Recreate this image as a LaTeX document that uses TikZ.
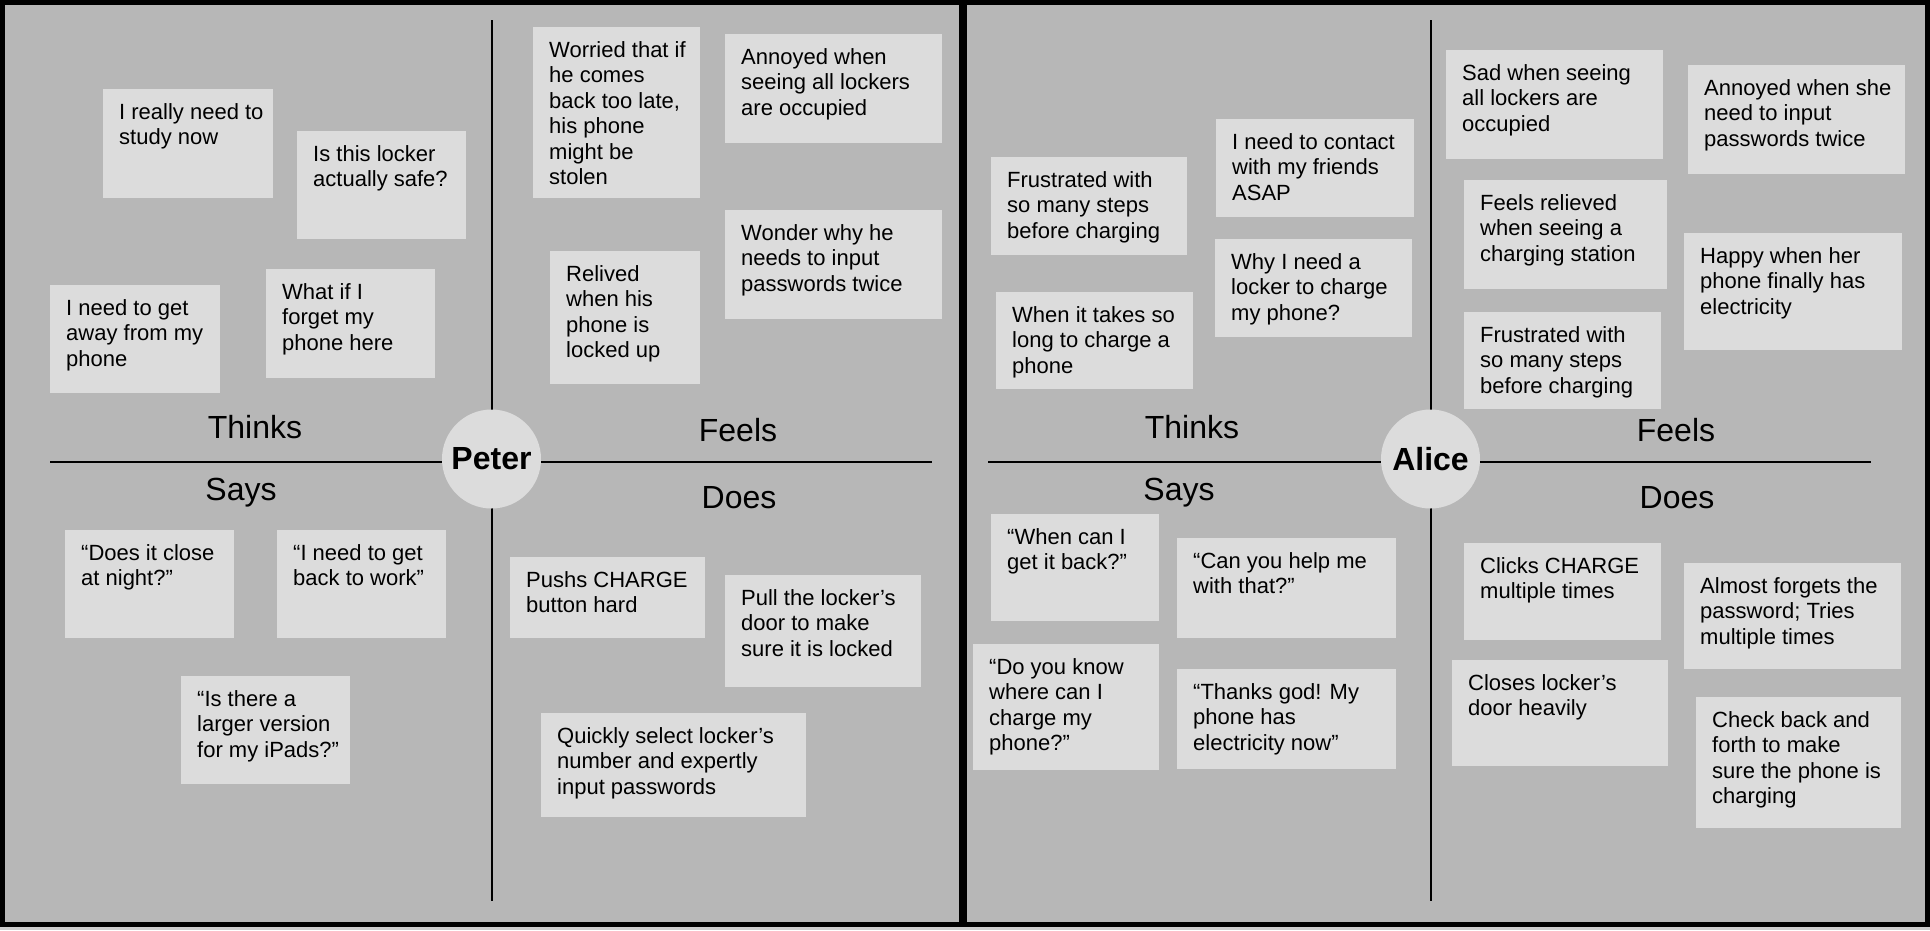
\documentclass[tikz,border=0pt]{standalone}
\usepackage{fontspec}
\setmainfont{Liberation Sans}
\definecolor{bggray}{RGB}{183,183,183}
\definecolor{stickygray}{RGB}{220,220,220}
\definecolor{stripgray}{RGB}{205,205,205}
\tikzset{
  stickybox/.style={fill=stickygray, draw=none, inner sep=0pt, anchor=north west},
  stickytext/.style={inner sep=0pt, anchor=north west, align=left, font=\fontsize{22}{25.5}\selectfont},
  quadlabel/.style={inner sep=0pt, anchor=base, font=\fontsize{32}{38}\selectfont},
  persona/.style={circle, fill=stickygray, minimum size=99pt, inner sep=0pt, font=\fontsize{32}{38}\selectfont\bfseries},
  axisline/.style={line width=2pt, black},
  panelframe/.style={line width=5pt, black}
}
\newcommand{\stickynote}[6]{%
  \node[stickybox, minimum width=#4pt, minimum height=#5pt] (#1) at (#2,#3) {};
  \node[stickytext] (#1t) at ([xshift=16pt,yshift=-14pt]#1.north west) {#6};
}
\begin{document}
\begin{tikzpicture}[x=1pt,y=-1pt]
\useasboundingbox (0,0) rectangle (1930,930);
\fill[stripgray] (0,0) rectangle (1930,930);
\fill[bggray] (0,0) rectangle (1930,927);
\draw[panelframe] (2.5,2.5) rectangle (961.5,924.5);
\draw[panelframe] (964.5,2.5) rectangle (1927,924.5);

% ---------- Peter ----------
\coordinate (pT) at (492,20);
\coordinate (pB) at (492,901);
\coordinate (pL) at (50,462);
\coordinate (pR) at (932,462);
\draw[axisline] (pT) -- (pB);
\draw[axisline] (pL) -- (pR);
\node[persona] (peter) at (491.5,459) {Peter};

\node[quadlabel] (pthinks) at (255,438) {Thinks};
\node[quadlabel] (pfeels) at (738,441) {Feels};
\node[quadlabel] (psays) at (241,500) {Says};
\node[quadlabel] (pdoes) at (739,508) {Does};

\stickynote{s1}{103}{89}{170}{109}{I really need to\\study now}
\stickynote{s2}{297}{131}{169}{108}{Is this locker\\actually safe?}
\stickynote{s3}{50}{285}{170}{108}{I need to get\\away from my\\phone}
\stickynote{s4}{266}{269}{169}{109}{What if I\\forget my\\phone here}
\stickynote{s5}{533}{27}{167}{171}{Worried that if\\he comes\\back too late,\\his phone\\might be\\stolen}
\stickynote{s6}{725}{34}{217}{109}{Annoyed when\\seeing all lockers\\are occupied}
\stickynote{s7}{550}{251}{150}{133}{Relived\\when his\\phone is\\locked up}
\stickynote{s8}{725}{210}{217}{109}{Wonder why he\\needs to input\\passwords twice}
\stickynote{s9}{65}{530}{169}{108}{“Does it close\\at night?”}
\stickynote{s10}{277}{530}{169}{108}{“I need to get\\back to work”}
\stickynote{s11}{181}{676}{169}{108}{“Is there a\\larger version\\for my iPads?”}
\stickynote{s12}{510}{557}{195}{81}{Pushs CHARGE\\button hard}
\stickynote{s13}{725}{575}{196}{112}{Pull the locker’s\\door to make\\sure it is locked}
\stickynote{s14}{541}{713}{265}{104}{Quickly select locker’s\\number and expertly\\input passwords}

% ---------- Alice ----------
\coordinate (aT) at (1431,20);
\coordinate (aB) at (1431,901);
\coordinate (aL) at (988,462);
\coordinate (aR) at (1871,462);
\draw[axisline] (aT) -- (aB);
\draw[axisline] (aL) -- (aR);
\node[persona] (alice) at (1430.5,459) {Alice};

\node[quadlabel] (athinks) at (1192,438) {Thinks};
\node[quadlabel] (afeels) at (1676,441) {Feels};
\node[quadlabel] (asays) at (1179,500) {Says};
\node[quadlabel] (adoes) at (1677,508) {Does};

\stickynote{s15}{991}{157}{196}{98}{Frustrated with\\so many steps\\before charging}
\stickynote{s16}{1216}{119}{198}{98}{I need to contact\\with my friends\\ASAP}
\stickynote{s17}{1215}{239}{197}{98}{Why I need a\\locker to charge\\my phone?}
\stickynote{s18}{996}{292}{197}{97}{When it takes so\\long to charge a\\phone}
\stickynote{s19}{1446}{50}{217}{109}{Sad when seeing\\all lockers are\\occupied}
\stickynote{s20}{1688}{65}{217}{109}{Annoyed when she\\need to input\\passwords twice}
\stickynote{s21}{1464}{180}{203}{109}{Feels relieved\\when seeing a\\charging station}
\stickynote{s22}{1684}{233}{218}{117}{Happy when her\\phone finally has\\electricity}
\stickynote{s23}{1464}{312}{197}{97}{Frustrated with\\so many steps\\before charging}
\stickynote{s24}{991}{514}{168}{107}{“When can I\\get it back?”}
\stickynote{s25}{1177}{538}{219}{100}{“Can you help me\\with that?”}
\stickynote{s26}{973}{644}{186}{126}{“Do you know\\where can I\\charge my\\phone?”}
\stickynote{s27}{1177}{669}{219}{100}{“Thanks god! My\\phone has\\electricity now”}
\stickynote{s28}{1464}{543}{197}{97}{Clicks CHARGE\\multiple times}
\stickynote{s29}{1684}{563}{217}{106}{Almost forgets the\\password; Tries\\multiple times}
\stickynote{s30}{1452}{660}{216}{106}{Closes locker’s\\door heavily}
\stickynote{s31}{1696}{697}{205}{131}{Check back and\\forth to make\\sure the phone is\\charging}
\end{tikzpicture}
\end{document}
